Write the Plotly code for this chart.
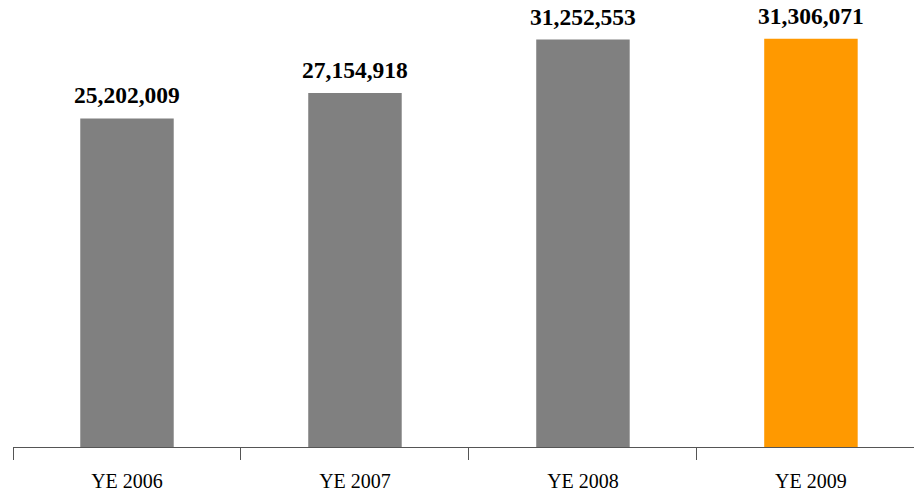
import plotly.graph_objects as go

categories = ["YE 2006", "YE 2007", "YE 2008", "YE 2009"]
values = [25202009, 27154918, 31252553, 31306071]
colors = ["#808080", "#808080", "#808080", "#FF9900"]
labels = [f"{v:,}" for v in values]

fig = go.Figure()
fig.add_trace(go.Bar(
    x=categories, y=values, marker=dict(color=colors, line=dict(width=0)),
    width=0.41, hoverinfo="skip",
))
for c, v, t in zip(categories, values, labels):
    fig.add_annotation(x=c, y=v, text=f"<b>{t}</b>", showarrow=False,
                       yanchor="bottom", yshift=9, borderpad=0,
                       font=dict(family="Liberation Serif", size=23.5, color="black"))

fig.update_layout(
    width=914, height=492,
    margin=dict(l=13, r=0, t=8, b=43),
    paper_bgcolor="white", plot_bgcolor="white",
    showlegend=False,
    xaxis=dict(
        type="category", range=[-0.5, 3.452],
        showline=True, linecolor="#555555", linewidth=1,
        ticks="outside", ticklen=12, tickcolor="#555555", tickson="boundaries",
        ticklabelstandoff=16,
        tickfont=dict(family="Liberation Serif", size=20, color="black"),
        showgrid=False,
    ),
    yaxis=dict(range=[0, 33673000], visible=False, showgrid=False),
)
fig.write_html("out.html", config={"displayModeBar": False},
               post_script="document.body.style.margin='0';")
